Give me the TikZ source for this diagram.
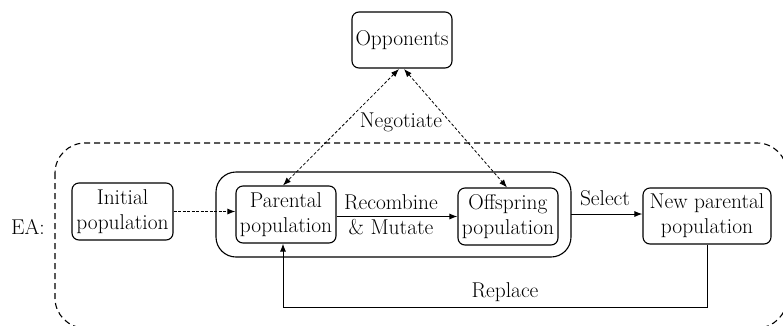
\documentclass[tikz,border=0pt]{standalone}
\usetikzlibrary{arrows.meta}
\begin{document}
\begin{tikzpicture}[x=1bp,y=-1bp,
  box/.style={draw, line width=1.1bp, rounded corners=7bp, align=center, inner sep=0pt},
  lbl/.style={align=center, inner sep=0pt},
  arr/.style={line width=1bp, -{Latex[length=8bp,width=6bp]}},
  darr/.style={line width=0.8bp, dash pattern=on 3bp off 2bp, {Latex[length=8bp,width=6bp]}-{Latex[length=8bp,width=6bp]}},
  every node/.style={font=\fontsize{21.5}{25}\selectfont}]
\useasboundingbox (0,0) rectangle (783,325);
% outer dashed region
\draw[line width=1.1bp, dash pattern=on 6bp off 4bp, rounded corners=30bp] (55,143) rectangle (787,328);
% inner solid group
\draw[line width=1.1bp, rounded corners=20bp] (216,172) rectangle (571,257);
\node[box, minimum width=100bp, minimum height=56bp] (opp) at (402,40) {Opponents};
\node[box, minimum width=101bp, minimum height=57bp] (init) at (122.5,211.5) {Initial\\population};
\node[box, minimum width=100bp, minimum height=57bp] (par) at (286,214.5) {Parental\\population};
\node[box, minimum width=100bp, minimum height=57bp] (off) at (508,216.5) {Offspring\\population};
\node[box, minimum width=128bp, minimum height=56bp] (newp) at (707,216) {New parental\\population};
\coordinate (grp) at (571,214);
\coordinate (c1) at (707,307);
\coordinate (c2) at (283,307);
\coordinate (o1) at (399,69);
\coordinate (o2) at (404,69);
% labels
\node[lbl] (ea) at (28,227) {EA:};
\node[lbl] (neg) at (401,122) {Negotiate};
\node[lbl] (rec) at (391,215) {Recombine\\\& Mutate};
\node[lbl] (sel) at (605,198) {Select};
\node[lbl] (rep) at (505,292) {Replace};
% connectors
\draw[arr, dash pattern=on 3bp off 1.5bp] (init.east) -- (par.west |- init.east);
\draw[arr] (par.east |- off.west) -- (off.west);
\draw[arr] (grp) -- (newp.west |- grp);
\draw[arr] (newp.south) -- (c1) -- (c2) -- (par.south -| c2);
\draw[darr] (o1) -- (par.north -| 283,0);
\draw[darr] (o2) -- (off.north -| 507,0);
\end{tikzpicture}
\end{document}
